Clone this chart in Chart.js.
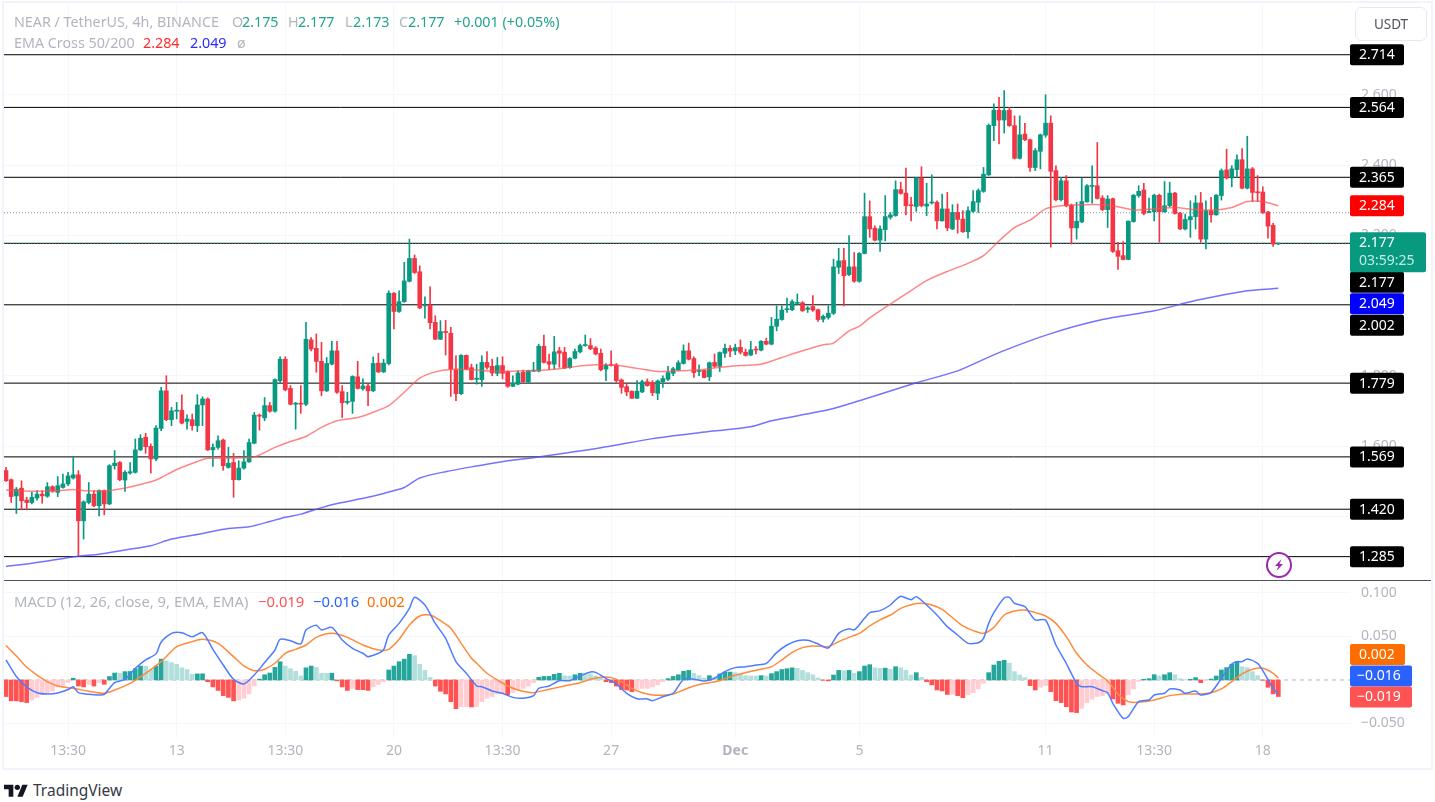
<!DOCTYPE html>
<html>
<head>
<meta charset="utf-8">
<script src="https://cdn.jsdelivr.net/npm/chart.js@4"></script>
<style>
  html, body { margin: 0; padding: 0; background: #fff; }
  body { width: 1435px; height: 802px; position: relative; overflow: hidden; font-family: "Noto Sans", sans-serif; }
  canvas { position: absolute; left: 0; }
  #frame { position: absolute; left: 2px; top: 1px; width: 1427px; height: 765px; border: 2px solid #f0f3fa; }
  #sep { position: absolute; left: 4px; top: 580px; width: 1427px; height: 1px; background: #50535e; }
  .row { position: absolute; left: 14px; white-space: nowrap; font-size: 14.3px; line-height: 18px; color: #b2b5be; }
  .row span { position: absolute; top: 0; }
  #usdt { position: absolute; left: 1355px; top: 7px; width: 70px; height: 32px; border: 1px solid #e6e8f0; border-radius: 6px;
          font-size: 13.5px; line-height: 32px; text-align: center; color: #50535e; }
  #brand { position: absolute; left: 33px; top: 780px; font-size: 15.5px; line-height: 20px; color: #363a45; }
  #logo { position: absolute; left: 4px; top: 782px; }
  #bolt { position: absolute; left: 1265px; top: 551px; }
</style>
</head>
<body>
<div id="frame"></div>
<canvas id="priceChart" width="1435" height="581" style="top:0"></canvas>
<canvas id="macdChart" width="1435" height="187" style="top:581px"></canvas>
<div id="sep"></div>

<div class="row" style="top:13px">NEAR / TetherUS, 4h, BINANCE
  <span style="left:218px;color:#b2b5be">O</span><span style="left:228px;color:#22a38c">2.175</span>
  <span style="left:274px;color:#b2b5be">H</span><span style="left:284px;color:#22a38c">2.177</span>
  <span style="left:331px;color:#b2b5be">L</span><span style="left:339px;color:#22a38c">2.173</span>
  <span style="left:385px;color:#b2b5be">C</span><span style="left:394px;color:#22a38c">2.177</span>
  <span style="left:440px;color:#22a38c">+0.001 (+0.05%)</span>
</div>
<div class="row" style="top:34px">EMA Cross 50/200
  <span style="left:129px;color:#ff2a2a">2.284</span>
  <span style="left:176px;color:#2a2aff">2.049</span>
  <span style="left:223px">ø</span>
</div>
<div class="row" style="top:592px;font-size:14.8px">MACD (12, 26, close, 9, EMA, EMA)
  <span style="left:244px;color:#ff5252">−0.019</span>
  <span style="left:299px;color:#2962ff">−0.016</span>
  <span style="left:353px;color:#ff6d00">0.002</span>
</div>

<div id="usdt">USDT</div>

<svg id="bolt" width="28" height="28" viewBox="0 0 28 28">
  <circle cx="14" cy="14" r="12" fill="#fff" stroke="#9c27b0" stroke-width="2"/>
  <path d="M16.5 8 L10 15 H13.5 L11.5 20 L18 13 H14.5 Z" fill="#9c27b0"/>
</svg>

<svg id="logo" width="24" height="16" viewBox="0 0 36 24">
  <path d="M14 22H7V11H0V4h14v18zM28 22h-8l7.5-18h8L28 22z" fill="#131722"/>
  <circle cx="20" cy="8" r="4" fill="#131722"/>
</svg>
<div id="brand">TradingView</div>

<script>
const opens = [
  1.530,1.504,1.458,1.480,1.446,1.439,1.452,1.463,1.457,1.484,
  1.468,1.482,1.492,1.509,1.518,1.387,1.439,1.463,1.430,1.473,
  1.435,1.544,1.553,1.503,1.523,1.525,1.589,1.625,1.599,1.563,
  1.650,1.757,1.675,1.699,1.702,1.670,1.675,1.658,1.717,1.734,
  1.589,1.596,1.617,1.539,1.553,1.504,1.537,1.555,1.608,1.688,
  1.680,1.715,1.699,1.786,1.847,1.764,1.719,1.722,1.719,1.902,
  1.878,1.841,1.757,1.833,1.871,1.755,1.724,1.727,1.797,1.763,
  1.771,1.757,1.836,1.811,1.835,2.035,1.983,2.011,2.069,2.134,
  2.096,1.999,2.001,1.952,1.904,1.926,1.921,1.817,1.749,1.858,
  1.823,1.790,1.789,1.838,1.827,1.807,1.829,1.812,1.770,1.776,
  1.810,1.782,1.813,1.813,1.884,1.840,1.833,1.871,1.867,1.823,
  1.850,1.868,1.886,1.886,1.879,1.864,1.819,1.831,1.831,1.788,
  1.769,1.756,1.736,1.754,1.783,1.781,1.750,1.783,1.790,1.807,
  1.817,1.835,1.871,1.849,1.812,1.815,1.797,1.838,1.827,1.864,
  1.878,1.871,1.881,1.867,1.859,1.876,1.873,1.898,1.890,1.941,
  1.960,1.988,1.988,2.006,2.008,1.989,1.997,1.988,1.961,1.966,
  1.978,2.109,2.128,2.088,2.110,2.069,2.148,2.253,2.220,2.186,
  2.216,2.251,2.256,2.330,2.320,2.286,2.282,2.363,2.283,2.292,
  2.294,2.241,2.275,2.218,2.265,2.246,2.210,2.268,2.294,2.325,
  2.372,2.512,2.556,2.528,2.556,2.512,2.419,2.488,2.472,2.393,
  2.439,2.485,2.519,2.384,2.301,2.355,2.286,2.221,2.238,2.295,
  2.339,2.341,2.306,2.273,2.304,2.156,2.142,2.131,2.239,2.313,
  2.329,2.265,2.267,2.314,2.267,2.284,2.320,2.263,2.218,2.244,
  2.253,2.292,2.189,2.270,2.258,2.313,2.386,2.363,2.387,2.415,
  2.334,2.389,2.323,2.323,2.266,2.228,2.175
];
const highs = [
  1.539,1.506,1.482,1.501,1.454,1.468,1.473,1.473,1.496,1.487,
  1.513,1.520,1.525,1.568,1.530,1.444,1.496,1.473,1.475,1.475,
  1.547,1.587,1.556,1.530,1.553,1.620,1.632,1.636,1.606,1.658,
  1.767,1.800,1.710,1.724,1.746,1.689,1.691,1.746,1.740,1.737,
  1.606,1.629,1.620,1.596,1.579,1.558,1.587,1.620,1.696,1.691,
  1.738,1.724,1.791,1.854,1.854,1.772,1.724,1.772,1.952,1.909,
  1.919,1.895,1.852,1.898,1.898,1.772,1.753,1.800,1.841,1.791,
  1.776,1.854,1.864,1.847,2.042,2.037,2.042,2.123,2.189,2.144,
  2.113,2.025,2.053,1.971,1.957,1.958,1.938,1.857,1.860,1.859,
  1.833,1.833,1.857,1.869,1.847,1.852,1.854,1.814,1.800,1.814,
  1.816,1.816,1.838,1.890,1.916,1.862,1.912,1.881,1.881,1.852,
  1.876,1.890,1.916,1.906,1.883,1.876,1.835,1.871,1.835,1.791,
  1.776,1.757,1.786,1.788,1.791,1.786,1.788,1.800,1.827,1.824,
  1.843,1.888,1.893,1.854,1.831,1.817,1.839,1.862,1.868,1.890,
  1.886,1.890,1.902,1.876,1.898,1.883,1.900,1.907,1.966,1.999,
  1.999,2.021,2.016,2.033,2.011,1.997,2.028,1.990,1.973,1.999,
  2.132,2.163,2.163,2.199,2.151,2.151,2.320,2.298,2.227,2.227,
  2.313,2.265,2.355,2.351,2.391,2.308,2.365,2.395,2.348,2.372,
  2.298,2.317,2.322,2.287,2.289,2.270,2.281,2.327,2.332,2.393,
  2.517,2.574,2.593,2.612,2.564,2.540,2.540,2.519,2.474,2.447,
  2.488,2.600,2.540,2.398,2.365,2.370,2.289,2.294,2.363,2.344,
  2.398,2.464,2.313,2.313,2.306,2.180,2.182,2.241,2.316,2.341,
  2.348,2.306,2.317,2.317,2.353,2.351,2.322,2.265,2.260,2.298,
  2.313,2.322,2.298,2.308,2.316,2.389,2.445,2.398,2.429,2.447,
  2.482,2.393,2.370,2.338,2.268,2.234,2.177
];
const lows = [
  1.499,1.439,1.408,1.418,1.418,1.435,1.446,1.437,1.454,1.468,
  1.456,1.480,1.487,1.506,1.288,1.335,1.435,1.427,1.401,1.404,
  1.433,1.534,1.501,1.471,1.520,1.523,1.587,1.579,1.523,1.558,
  1.644,1.672,1.658,1.677,1.663,1.648,1.645,1.641,1.658,1.587,
  1.542,1.591,1.531,1.537,1.454,1.503,1.534,1.553,1.606,1.645,
  1.672,1.696,1.696,1.781,1.757,1.717,1.648,1.693,1.715,1.871,
  1.810,1.743,1.755,1.831,1.750,1.681,1.719,1.693,1.762,1.759,
  1.715,1.755,1.809,1.809,1.831,1.933,1.980,2.009,2.067,2.091,
  1.991,1.964,1.933,1.903,1.903,1.859,1.741,1.729,1.746,1.817,
  1.788,1.776,1.770,1.819,1.800,1.800,1.791,1.767,1.769,1.774,
  1.781,1.779,1.812,1.811,1.836,1.817,1.819,1.824,1.820,1.821,
  1.848,1.865,1.884,1.874,1.859,1.814,1.786,1.827,1.781,1.750,
  1.743,1.735,1.735,1.752,1.770,1.743,1.732,1.767,1.786,1.800,
  1.814,1.833,1.845,1.795,1.800,1.794,1.786,1.824,1.812,1.852,
  1.854,1.860,1.862,1.856,1.857,1.862,1.871,1.888,1.888,1.928,
  1.958,1.980,1.985,2.004,1.983,1.980,1.983,1.955,1.953,1.961,
  1.974,2.091,1.999,2.085,2.066,2.066,2.147,2.194,2.184,2.154,
  2.184,2.246,2.254,2.317,2.258,2.241,2.268,2.281,2.256,2.289,
  2.218,2.240,2.213,2.216,2.206,2.208,2.192,2.265,2.265,2.322,
  2.370,2.469,2.460,2.491,2.510,2.417,2.417,2.469,2.382,2.384,
  2.389,2.479,2.166,2.298,2.298,2.281,2.175,2.189,2.236,2.294,
  2.291,2.303,2.270,2.222,2.151,2.103,2.130,2.130,2.237,2.308,
  2.258,2.264,2.241,2.180,2.265,2.281,2.260,2.216,2.215,2.194,
  2.218,2.180,2.161,2.237,2.257,2.300,2.360,2.338,2.365,2.332,
  2.332,2.296,2.296,2.262,2.192,2.168,2.173
];
const closes = [
  1.501,1.456,1.477,1.444,1.439,1.454,1.463,1.458,1.484,1.471,
  1.487,1.492,1.515,1.518,1.387,1.441,1.463,1.430,1.473,1.435,
  1.544,1.551,1.504,1.525,1.527,1.589,1.622,1.598,1.563,1.651,
  1.757,1.675,1.700,1.702,1.665,1.677,1.658,1.717,1.734,1.589,
  1.596,1.615,1.544,1.551,1.504,1.537,1.555,1.610,1.688,1.685,
  1.715,1.699,1.789,1.847,1.760,1.719,1.722,1.719,1.904,1.876,
  1.841,1.757,1.835,1.871,1.753,1.723,1.727,1.798,1.764,1.771,
  1.757,1.835,1.811,1.836,2.035,1.983,2.011,2.070,2.134,2.094,
  1.993,2.002,1.951,1.904,1.926,1.923,1.819,1.749,1.858,1.819,
  1.789,1.793,1.838,1.824,1.808,1.829,1.807,1.770,1.779,1.808,
  1.783,1.814,1.815,1.884,1.838,1.833,1.868,1.864,1.822,1.849,
  1.869,1.886,1.888,1.877,1.862,1.817,1.830,1.829,1.786,1.767,
  1.754,1.736,1.756,1.783,1.772,1.752,1.785,1.792,1.809,1.820,
  1.837,1.871,1.847,1.809,1.815,1.795,1.837,1.827,1.866,1.878,
  1.870,1.880,1.867,1.858,1.874,1.873,1.898,1.890,1.941,1.961,
  1.987,1.991,2.011,2.009,1.985,1.993,1.987,1.960,1.969,1.978,
  2.110,2.127,2.085,2.110,2.069,2.148,2.253,2.218,2.186,2.218,
  2.253,2.258,2.330,2.319,2.284,2.284,2.363,2.284,2.289,2.294,
  2.241,2.275,2.221,2.265,2.245,2.210,2.270,2.296,2.327,2.374,
  2.513,2.556,2.528,2.555,2.512,2.419,2.486,2.472,2.393,2.441,
  2.486,2.519,2.382,2.301,2.355,2.284,2.221,2.240,2.296,2.341,
  2.342,2.305,2.273,2.303,2.154,2.140,2.131,2.240,2.314,2.325,
  2.262,2.268,2.314,2.267,2.284,2.320,2.262,2.218,2.245,2.253,
  2.292,2.189,2.270,2.258,2.314,2.384,2.363,2.389,2.415,2.334,
  2.389,2.322,2.321,2.264,2.226,2.175,2.177
];

const ema50Bars = [0,5,10,13,15,20,25,29,33,37,39,44,48,52,55,58,61,64,68,71,74,77,80,83,86,90,95,100,105,110,114,118,122,126,130,134,138,142,146,150,154,158,160,163,165,167,170,174,178,182,186,189,192,195,198,201,204,208,212,215,218,222,226,230,234,237,240,243,246];
const ema50 = [1.475,1.471,1.473,1.476,1.473,1.473,1.487,1.503,1.533,1.556,1.565,1.566,1.569,1.596,1.613,1.627,1.653,1.672,1.681,1.696,1.715,1.753,1.793,1.811,1.818,1.817,1.812,1.814,1.817,1.826,1.831,1.830,1.821,1.812,1.814,1.817,1.824,1.829,1.833,1.852,1.871,1.888,1.893,1.928,1.941,1.965,1.995,2.033,2.071,2.097,2.120,2.142,2.184,2.222,2.243,2.275,2.284,2.287,2.287,2.281,2.272,2.275,2.279,2.273,2.272,2.279,2.296,2.296,2.284];
const ema200Bars = [0,5,14,18,23,28,32,38,43,47,51,54,57,60,63,70,73,77,80,85,91,97,103,115,125,134,144,148,159,165,176,184,192,202,212,222,230,240,246];
const ema200 = [1.257,1.266,1.286,1.292,1.304,1.316,1.335,1.351,1.365,1.370,1.385,1.397,1.406,1.420,1.433,1.454,1.465,1.482,1.509,1.527,1.543,1.558,1.569,1.595,1.621,1.638,1.655,1.672,1.703,1.729,1.780,1.814,1.866,1.920,1.960,1.985,2.014,2.042,2.049];

// drawn levels and dotted lines
const levels = [2.714,2.564,2.365,2.177,2.002,1.779,1.569,1.420,1.285];
const dottedLevel = 2.264;
const lastPrice = 2.177;
const priceTicks = [1.4,1.6,1.8,2.2,2.4,2.6];

// MACD pane
const macdHist = [
  -.019,-.024,-.024,-.025,-.026,-.023,-.020,-.017,-.015,-.013,
  -.008,-.006,-.003,.002,-.007,-.008,-.005,-.007,-.003,-.005,
  .004,.008,.0078,.0096,.0098,.013,.016,.0158,.0115,.016,
  .024,.022,.020,.018,.014,.012,.0065,.007,.0071,-.002,
  -.008,-.012,-.018,-.020,-.024,-.023,-.021,-.016,-.007,.001,
  .006,.008,.0145,.021,.016,.013,.010,.0046,.014,.016,
  .0145,.0077,.0076,.0078,-.001,-.008,-.012,-.0096,-.011,-.0112,
  -.012,-.008,-.005,-.002,.0115,.016,.021,.024,.0295,.028,
  .018,.011,.003,-.007,-.013,-.016,-.025,-.033,-.031,-.0305,
  -.031,-.0305,-.025,-.021,-.019,-.016,-.015,-.017,-.0145,-.0115,
  -.0096,-.007,-.003,.003,.004,.0041,.0065,.0077,.0046,.0045,
  .006,.0077,.0076,.0069,.0046,.003,-.002,-.003,-.007,-.011,
  -.0115,-.0134,-.011,-.0097,-.0096,-.008,-.0057,-.002,.0015,.004,
  .006,.010,.011,.0077,.005,.0023,.005,.003,.007,.009,
  .0091,.0084,.0065,.005,.0046,.0045,.005,.0046,.0073,.0096,
  .012,.013,.014,.0134,.011,.0084,.006,.0023,-.0004,-.001,
  .0057,.011,.0108,.011,.0077,.0096,.016,.0176,.014,.0134,
  .0136,.0123,.0153,.014,.011,.0057,.0084,.003,-.002,-.0057,
  -.0115,-.0126,-.0166,-.0165,-.018,-.0203,-.0172,-.0146,-.0103,-.0038,
  .0084,.0172,.0215,.0226,.0192,.0096,.0057,.0027,-.0065,-.0115,
  -.0084,-.0065,-.0134,-.0238,-.026,-.0307,-.0368,-.0375,-.0326,-.026,
  -.022,-.019,-.018,-.016,-.0218,-.0268,-.0287,-.0172,-.0103,-.0015,
  .0008,.0015,.0061,.0046,.0061,.0084,.0061,.0015,.0004,.0008,
  .0027,-.0031,-.0008,.001,.0046,.0115,.0142,.018,.021,.0153,
  .0142,.0096,.005,-.0004,-.0084,-.016,-.019
];
const macdBars = [0,2,4,6,8,10,12,13,14,16,18,19,21,23,25,27,29,30,32,34,36,38,40,42,44,46,48,50,52,53,55,57,58,60,61,63,65,67,69,70,72,73,74,76,78,79,81,83,85,87,89,91,92,94,96,98,100,102,103,105,107,109,111,113,114,116,118,120,122,124,125,127,129,131,133,135,137,139,141,143,145,147,149,151,153,155,157,159,161,163,164,166,167,169,171,172,173,175,176,178,180,182,184,186,188,189,190,191,193,194,195,197,199,201,203,205,207,208,210,212,213,214,216,217,219,221,222,224,225,227,228,230,231,233,235,237,238,239,240,242,243,245,246];
const macdLine = [.023,.004,-.008,-.0146,-.016,-.015,-.011,-.0077,-.0146,-.0165,-.0172,-.0165,-.003,.0008,.0134,.023,.030,.0437,.0536,.0544,.0498,.0544,.0352,.0172,.0008,-.0046,.0057,.020,.0345,.0467,.045,.0414,.0575,.0628,.0575,.0605,.046,.0364,.0307,.0268,.0307,.0345,.0517,.0651,.0824,.095,.0862,.0651,.0479,.0211,.0077,-.0069,-.0077,-.0126,-.0153,-.02,-.021,-.018,-.0096,-.0069,-.0008,-.0008,.0046,.0092,.0088,.0019,-.0046,-.0153,-.0215,-.0218,-.0238,-.0192,-.0153,.0008,.0008,-.0011,.0019,.0096,.0142,.0153,.0172,.0192,.0314,.0402,.0452,.0456,.0414,.0368,.0536,.059,.0575,.0709,.0774,.0797,.0862,.092,.0962,.0923,.0958,.0862,.0747,.0613,.0517,.0421,.0429,.0479,.0651,.0774,.0943,.095,.0881,.0843,.069,.069,.0402,.0192,-.0038,-.0077,-.0077,-.0123,-.0146,-.0268,-.0441,-.0421,-.0249,-.023,-.0172,-.0153,-.0103,-.0115,-.0153,-.0126,-.0172,-.0142,.0019,.0184,.0211,.0211,.0241,.0192,.0107,-.0096,-.0161];
const signalBars = [0,2,4,6,8,10,12,14,16,19,21,24,27,30,33,36,38,41,44,46,48,50,52,54,56,58,60,63,66,69,72,74,76,78,80,82,84,86,88,90,91,93,95,97,99,101,102,105,108,111,113,115,117,119,121,123,125,127,129,131,133,136,138,140,143,146,148,150,152,154,156,159,161,163,165,167,169,171,173,175,177,179,181,183,185,187,189,191,193,195,197,199,201,203,205,207,209,211,213,215,217,219,222,225,228,231,233,235,237,239,241,243,245,246];
const signalLine = [.0395,.0276,.0146,.0057,-.0019,-.0069,-.0088,-.0107,-.013,-.0153,-.0115,-.0038,.0077,.0211,.0383,.0441,.0467,.0421,.0268,.0161,.0107,.0123,.0192,.0307,.0352,.0402,.049,.0536,.049,.0402,.0345,.0352,.0467,.0632,.0736,.0747,.0682,.0594,.0421,.0249,.0192,.0077,0,-.0069,-.0115,-.0142,-.0146,-.0107,-.0069,-.0031,.0008,.0031,.0027,-.0019,-.0096,-.0146,-.0172,-.0176,-.0161,-.0115,-.0069,-.0031,-.0008,.0038,.0084,.0123,.0153,.023,.0318,.0372,.0391,.0383,.0441,.049,.0536,.0621,.069,.0747,.0824,.0866,.0881,.0862,.0812,.0716,.0621,.0567,.0536,.0605,.0747,.0793,.0805,.0774,.0736,.0651,.0498,.0307,.0172,.0077,-.0011,-.0161,-.0249,-.0257,-.023,-.018,-.0161,-.0161,-.0146,-.0103,-.0019,.0069,.0123,.0134,.0077,.0023];
const macdTicks = [-0.05,0.05,0.1];

// time axis
const timeBars = [12,33,54,75,96,117,141,165,201,222,243];
const timeLabels = ['13:30','13','13:30','20','13:30','27','Dec','5','11','13:30','18'];
const boldBar = 141;

const FONT = '"Noto Sans", sans-serif';
const UP = '#089981', DOWN = '#f23645';
const GREY = '#b2b5be', GRID = '#f6f7fb';
const xMin = -0.387, xMax = 259.86;

function pts(xs, ys) {
  return ys.map((y, i) => ({ x: xs[i], y: y }));
}

function flatLine(v, color, dash, order, width) {
  return {
    type: 'line', data: [{ x: xMin, y: v }, { x: xMax, y: v }],
    borderColor: color, borderWidth: width || 1, borderDash: dash || [],
    pointRadius: 0, order: order
  };
}

function curve(xs, ys, color, width, order) {
  return {
    type: 'line', data: pts(xs, ys), borderColor: color, borderWidth: width,
    pointRadius: 0, tension: 0.25, order: order
  };
}

const candleColors = closes.map((c, i) => (c >= opens[i] ? UP : DOWN));
const histColors = macdHist.map((v, i) => {
  const prev = i ? macdHist[i - 1] : v;
  if (v >= 0) return v >= prev ? '#26a69a' : '#b2dfdb';
  return v <= prev ? '#ff5252' : '#ffcdd2';
});

function drawTag(ctx, t) {
  ctx.fillStyle = t.bg;
  ctx.beginPath();
  ctx.roundRect(1350, t.y - 10.5, t.w || 54, 21, 2);
  ctx.fill();
  ctx.fillStyle = '#fff';
  ctx.font = '14px ' + FONT;
  ctx.textBaseline = 'middle';
  ctx.textAlign = 'left';
  ctx.fillText(t.text, t.x || 1359, t.y + 0.5);
}

// price labels on the right, the crowded ones get pushed down like on the original
const priceTags = {
  id: 'priceTags',
  afterDraw(chart) {
    const ctx = chart.ctx, y = chart.scales.y;
    ctx.save();
    [2.714, 2.564, 2.365, 1.779, 1.569, 1.420, 1.285].forEach(v => {
      drawTag(ctx, { y: y.getPixelForValue(v), text: v.toFixed(3), bg: '#000' });
    });
    drawTag(ctx, { y: y.getPixelForValue(ema50[ema50.length - 1]), text: '2.284', bg: '#ff0000' });
    drawTag(ctx, { y: y.getPixelForValue(lastPrice) + 39, text: '2.177', bg: '#000' });
    drawTag(ctx, { y: y.getPixelForValue(2.002) + 20.5, text: '2.002', bg: '#000' });
    drawTag(ctx, { y: y.getPixelForValue(ema200[ema200.length - 1]) + 15.5, text: '2.049', bg: '#0000ff' });

    const top = y.getPixelForValue(lastPrice) - 11;
    ctx.fillStyle = UP;
    ctx.beginPath();
    ctx.roundRect(1350, top, 76, 40, 2);
    ctx.fill();
    ctx.fillStyle = '#fff';
    ctx.textBaseline = 'middle';
    ctx.font = '14px ' + FONT;
    ctx.fillText('2.177', 1359, top + 11);
    ctx.fillStyle = '#c4ebe2';
    ctx.fillText('03:59:25', 1359, top + 29);
    ctx.restore();
  }
};

const macdTags = {
  id: 'macdTags',
  afterDraw(chart) {
    const ctx = chart.ctx, y = chart.scales.y;
    const zero = y.getPixelForValue(0);
    ctx.save();
    drawTag(ctx, { y: zero - 25.5, text: '0.002', bg: '#ff6d00', w: 55 });
    drawTag(ctx, { y: zero - 4, text: '−0.016', bg: '#2962ff', w: 62, x: 1357 });
    drawTag(ctx, { y: zero + 17, text: '−0.019', bg: '#ff5252', w: 62, x: 1357 });
    ctx.restore();
  }
};

// axes must not reserve room for half a label, the panes have to line up exactly
function noAxisPadding(s) {
  s.paddingTop = s.paddingBottom = s.paddingLeft = s.paddingRight = 0;
}

function yAxis(min, max, ticks) {
  return {
    position: 'right', min: min, max: max,
    grid: { color: GRID, drawTicks: false },
    border: { display: false },
    afterBuildTicks: s => { s.ticks = ticks.map(v => ({ value: v })); },
    afterFit: s => { s.width = 80; noAxisPadding(s); },
    ticks: {
      color: GREY, padding: 11, font: { family: FONT, size: 14 },
      callback: v => v.toFixed(3).replace('-', '−')
    }
  };
}

function xAxis(showLabels) {
  return {
    type: 'linear', offset: false, min: xMin, max: xMax,
    grid: { color: GRID, drawTicks: false, offset: false },
    border: { display: false },
    afterBuildTicks: s => { s.ticks = timeBars.map(v => ({ value: v })); },
    afterFit: s => { s.height = showLabels ? 30 : 0; noAxisPadding(s); },
    ticks: {
      display: showLabels, autoSkip: false, maxRotation: 0, color: GREY, padding: 5,
      font: c => ({ family: FONT, size: 14, weight: c.tick && c.tick.value === boldBar ? 'bold' : 'normal' }),
      callback: v => timeLabels[timeBars.indexOf(v)]
    }
  };
}

const baseOptions = {
  responsive: false, animation: false, events: [],
  plugins: { legend: { display: false }, tooltip: { enabled: false } }
};

new Chart(document.getElementById('priceChart'), {
  type: 'bar',
  data: {
    datasets: [
      ...levels.map(v => flatLine(v, '#000', [], 6)),
      flatLine(dottedLevel, '#8a8d96', [1, 2], 6),
      flatLine(lastPrice, UP, [1, 2], 5),
      {
        data: lows.map((l, i) => ({ x: i, y: [l, highs[i]] })),
        backgroundColor: candleColors, barThickness: 1, grouped: false, order: 3
      },
      {
        data: opens.map((o, i) => ({ x: i, y: [o, closes[i]] })),
        backgroundColor: candleColors, barThickness: 4, minBarLength: 1, grouped: false, order: 2
      },
      curve(ema50Bars, ema50, 'rgba(255,82,82,0.7)', 1.5, 1),
      curve(ema200Bars, ema200, 'rgba(80,80,255,0.8)', 1.5, 1)
    ]
  },
  options: {
    ...baseOptions,
    layout: { padding: { left: 4, right: 5, top: 4, bottom: 1 } },
    scales: { x: xAxis(false), y: yAxis(1.2185, 2.8584, priceTicks) }
  },
  plugins: [priceTags]
});

new Chart(document.getElementById('macdChart'), {
  type: 'bar',
  data: {
    datasets: [
      flatLine(0, GREY, [4, 4], 4),
      {
        data: macdHist.map((v, i) => ({ x: i, y: v })),
        backgroundColor: histColors, barThickness: 4, grouped: false, order: 3
      },
      curve(macdBars, macdLine, '#4f7cff', 1.5, 1),
      curve(signalBars, signalLine, '#ff8a3c', 1.5, 2)
    ]
  },
  options: {
    ...baseOptions,
    layout: { padding: { left: 4, right: 5, top: 1, bottom: 0 } },
    scales: { x: xAxis(true), y: yAxis(-0.0667, 0.11264, macdTicks) }
  },
  plugins: [macdTags]
});
</script>
</body>
</html>
